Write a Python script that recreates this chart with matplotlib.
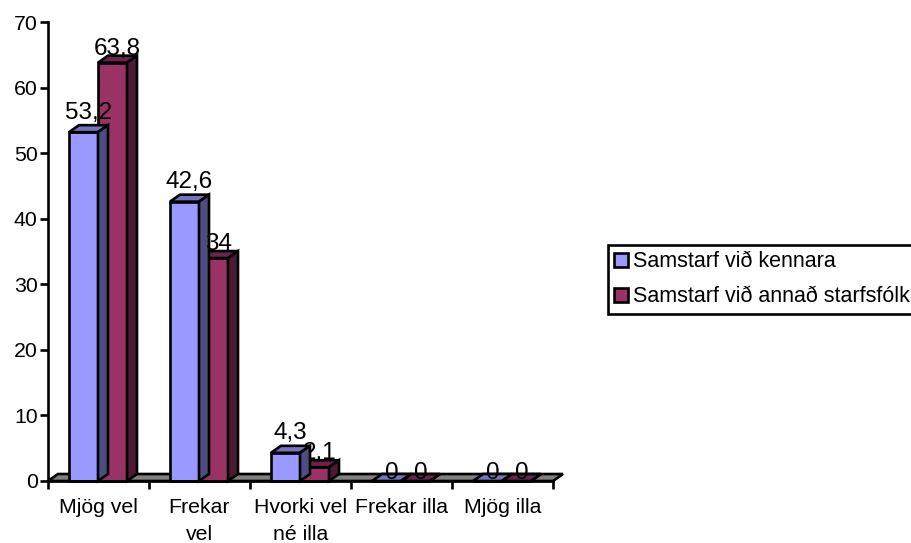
import matplotlib
matplotlib.use("Agg")
import matplotlib.pyplot as plt
from matplotlib.patches import Polygon, Patch

categories = ["Mjög vel", "Frekar\nvel", "Hvorki vel\nné illa", "Frekar illa", "Mjög illa"]
kennarar = [53.2, 42.6, 4.3, 0, 0]
starfsfolk = [63.8, 34, 2.1, 0, 0]
value_labels_1 = ["53,2", "42,6", "4,3", "0", "0"]
value_labels_2 = ["63,8", "34", "2,1", "0", "0"]
series_names = ["Samstarf við kennara", "Samstarf við annað starfsfólk"]

plt.rcParams['font.family'] = ['Liberation Sans', 'DejaVu Sans']

W, H = 912, 543
fig = plt.figure(figsize=(W / 100, H / 100), dpi=100)
ax = fig.add_axes([48 / W, 1 - 481 / H, 505 / W, 459 / H])
ax.set_xlim(0, 5)
ax.set_ylim(0, 70)

# fake 3d depth, in data units
dx = 10 / 101
dy = 7 / 6.557
bar_w = 29 / 101
lw = 1.9
tick_size = 15.3
value_size = 17.5


def box(x, val, col, side, top, z):
    ax.bar(x, val, bar_w, align='edge', color=col, edgecolor='k', linewidth=lw, zorder=z, clip_on=False)
    ax.add_patch(Polygon([(x, val), (x + dx, val + dy), (x + bar_w + dx, val + dy), (x + bar_w, val)],
                         fc=top, ec='k', lw=lw, zorder=z, clip_on=False))
    ax.add_patch(Polygon([(x + bar_w, 0), (x + bar_w + dx, dy), (x + bar_w + dx, val + dy), (x + bar_w, val)],
                         fc=side, ec='k', lw=lw, zorder=z, clip_on=False))


# floor
ax.add_patch(Polygon([(0, 0), (dx, dy), (5 + dx, dy), (5, 0)], fc='#808080', ec='k', lw=lw, zorder=1, clip_on=False))

for i in range(len(categories)):
    x0 = i + 21 / 101
    box(x0 + bar_w, starfsfolk[i], '#993366', '#4d1a33', '#6b2447', 3 + i * 2)
    box(x0, kennarar[i], '#9999ff', '#4d4d80', '#7373bf', 4 + i * 2)
    # the second label goes under the blue box of its group
    off2 = 2 if starfsfolk[i] == 0 else 8
    off1 = 2 if kennarar[i] == 0 else 13.5
    ax.annotate(value_labels_2[i], (x0 + bar_w * 1.5 + dx / 2, starfsfolk[i]), xytext=(0, off2 * 0.72),
                textcoords='offset points', ha='center', va='baseline', fontsize=value_size,
                zorder=3.5 + i * 2 if i == 2 else 30, annotation_clip=False)
    ax.annotate(value_labels_1[i], (x0 + bar_w / 2 + dx / 2, kennarar[i]), xytext=(0, off1 * 0.72),
                textcoords='offset points', ha='center', va='baseline', fontsize=value_size,
                zorder=30, annotation_clip=False)

for s in ['top', 'right']:
    ax.spines[s].set_visible(False)
for s in ['left', 'bottom']:
    ax.spines[s].set_linewidth(lw)
    ax.spines[s].set_zorder(20)

ax.set_yticks(range(0, 71, 10))
ax.set_xticks(range(0, 6))
ax.set_xticklabels([])
ax.set_xticks([i + 0.5 for i in range(5)], labels=categories, minor=True)
ax.tick_params(axis='both', which='major', length=6, width=lw, labelsize=tick_size, pad=1.5)
ax.tick_params(axis='x', which='minor', length=0, labelsize=tick_size, pad=12.5)
for t in ax.get_xticklabels(minor=True):
    t.set_linespacing(1.5)

handles = [Patch(fc='#9999ff', ec='k', lw=lw, label=series_names[0]),
           Patch(fc='#993366', ec='k', lw=lw, label=series_names[1])]
leg = ax.legend(handles=handles, loc='upper left', bbox_to_anchor=(608 / W, 1 - 245 / H),
                bbox_transform=fig.transFigure, borderaxespad=0, fancybox=False, framealpha=1,
                edgecolor='k', fontsize=15.5, handlelength=0.65, handleheight=0.62,
                handletextpad=0.2, labelspacing=0.64, borderpad=0.3)
leg.get_frame().set_linewidth(lw)
leg.set_zorder(40)

fig.savefig("out.png", dpi=100)
